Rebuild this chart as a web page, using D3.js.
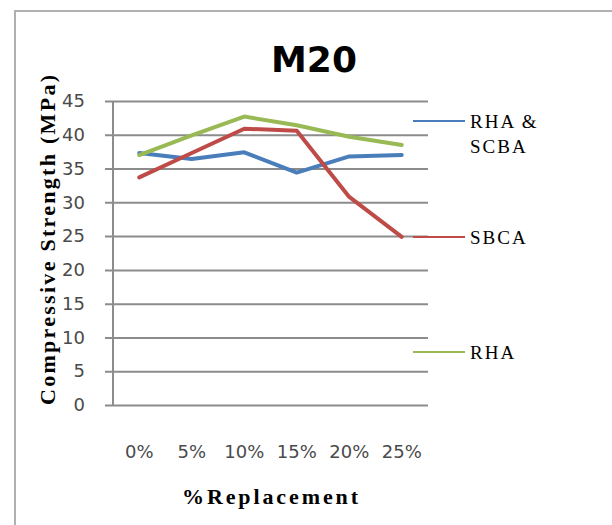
<!DOCTYPE html>
<html><head><meta charset="utf-8">
<script src="https://cdn.jsdelivr.net/npm/d3@7"></script>
<style>body{margin:0;background:#fff}svg{display:block}</style>
</head><body>
<svg id="c" width="612" height="525"></svg>
<script>
const categories = ["0%","5%","10%","15%","20%","25%"];
const rhaScba = [37.3, 36.4, 37.4, 34.4, 36.8, 37.0];
const sbca = [33.7, 37.3, 40.9, 40.6, 30.8, 24.9];
const rha = [37.0, 39.9, 42.7, 41.4, 39.7, 38.5];
const yTicks = [0,5,10,15,20,25,30,35,40,45];
const seriesNames = ["RHA & SCBA","SBCA","RHA"];

(function(){
const svg = d3.select("#c");
svg.append("path").attr("d","M15,530 V11 H620").attr("fill","none").attr("stroke","#b0b0b0").attr("stroke-width",2);

const pL = 113, pR = 428, pT = 101, pB = 405;
const x = d3.scaleBand().domain(categories).range([pL,pR]);
const y = d3.scaleLinear().domain([0,45]).range([pB,pT]);

const yAxis = d3.axisLeft(y).tickValues(yTicks).tickSize(-(pR-pL)).tickPadding(20).tickSizeOuter(0);
const gy = svg.append("g").attr("transform",`translate(${pL},0)`).call(yAxis);
gy.select(".domain").remove();
gy.selectAll(".tick line").attr("x1",-8).attr("stroke","#8c8c8c").attr("stroke-width",2);
gy.selectAll(".tick text").attr("x",-28).attr("font-family","DejaVu Sans").attr("font-size",18).attr("fill","#4a4a4a");
svg.append("line").attr("x1",pL).attr("x2",pL).attr("y1",pT).attr("y2",pB+1).attr("stroke","#8c8c8c").attr("stroke-width",2);

const xAxis = d3.axisBottom(x).tickSize(0).tickPadding(40);
const gx = svg.append("g").attr("transform",`translate(0,${pB})`).call(xAxis);
gx.select(".domain").remove();
gx.selectAll(".tick text").attr("font-family","DejaVu Sans").attr("font-size",18).attr("fill","#4a4a4a");

const colors = ["#4a7ebb","#be4b48","#98b954"];
const data = [rhaScba, sbca, rha];
const line = d3.line().x((d,i)=>x(categories[i])+x.bandwidth()/2).y(d=>y(d));
[0,1,2].forEach(k=>{
  svg.append("path").datum(data[k]).attr("d",line).attr("fill","none")
    .attr("stroke",colors[k]).attr("stroke-width",4).attr("stroke-linejoin","round").attr("stroke-linecap","round");
});

svg.append("text").attr("x",314).attr("y",72).attr("text-anchor","middle")
  .attr("font-family","DejaVu Sans").attr("font-weight","bold").attr("font-size",36).attr("fill","#000").text("M20");

svg.append("text").attr("transform","translate(55,240) rotate(-90)").attr("text-anchor","middle")
  .attr("font-family","Liberation Serif").attr("font-weight","bold").attr("font-size",22)
  .attr("textLength",330).attr("lengthAdjust","spacing").text("Compressive Strength (MPa)");
svg.append("text").attr("x",270).attr("y",504).attr("text-anchor","middle")
  .attr("font-family","Liberation Serif").attr("font-weight","bold").attr("font-size",22)
  .attr("textLength",176).attr("lengthAdjust","spacing").text("%Replacement");

const legY = [121, 237, 352];
const legText = [["RHA &","SCBA"],["SBCA"],["RHA"]];
legY.forEach((ly,k)=>{
  svg.append("line").attr("x1",413).attr("x2",465).attr("y1",ly).attr("y2",ly).attr("stroke",colors[k]).attr("stroke-width",2);
  legText[k].forEach((t,j)=>{
    svg.append("text").attr("x",470).attr("y",ly+7+j*25).attr("font-family","Liberation Serif")
      .attr("font-size",19).attr("letter-spacing",2).attr("fill","#000").text(t);
  });
});
})();
</script>
</body></html>
